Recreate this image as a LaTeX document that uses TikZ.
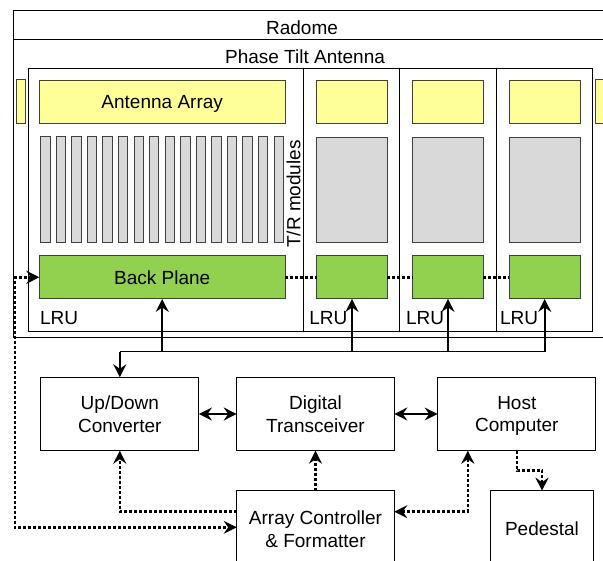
\documentclass[tikz,border=0pt]{standalone}
\usepackage{fontspec}
\setmainfont{Liberation Sans}
\usetikzlibrary{arrows.meta}

\definecolor{ant_gelb}{RGB}{255,255,153}
\definecolor{tr_grau}{RGB}{217,217,217}
\definecolor{bp_gruen}{RGB}{146,208,80}

\begin{document}
\begin{tikzpicture}[
      x=1pt, y=-1pt,
      >={Stealth[length=13pt,width=13pt,inset=4.5pt]},
      every node/.style={
        font=\fontsize{19}{22.7}\selectfont,
        inner sep=0pt,
        outer sep=0pt
      },
      frame/.style={draw=black, line width=1pt},
      antbox/.style={draw=black!75, fill=ant_gelb, line width=1pt, text depth=0pt},
      trbox/.style={draw=black!75, fill=tr_grau, line width=1pt},
      bpbox/.style={draw=black!75, fill=bp_gruen, line width=1pt},
      block/.style={draw=black, line width=1pt, fill=white, align=center, text depth=0pt},
      link/.style={line width=1.6pt},
      ctl/.style={line width=2.5pt, dash pattern=on 3pt off 2pt}
    ]
      \clip (0,0) rectangle (603,561);

      % Radom
      \draw [frame] (612,10.7) -| (13.3,337.3) -- (612,337.3);
      \draw [frame] (13.3,40) -- (612,40);
      \node (radome) at (302,27.5) {Radome};
      \node (pta) at (305,57) {Phase Tilt Antenna};

      % LRUs
      \draw [frame] (28.3,69) rectangle (592.7,331.7);
      \foreach \x in {303.3,399.3,496}
        \draw [frame] (\x,69) -- (\x,331.7);
      \foreach \x in {40,309.3,406,500}
        \node [anchor=west] at (\x,318.3) {LRU};

      % Nachbar-Antennen (Rand)
      \draw [antbox] (16,80) rectangle (25.7,123.3);
      \draw [antbox] (595.3,80) rectangle (612,123.3);

      % erste LRU
      \node [antbox, minimum width=245.7pt, minimum height=43.3pt] (aa) at (162.2,101.7) {Antenna Array};
      \foreach \i in {0,...,15}
        \draw [trbox] ({40.7+15.56*\i},136.7) rectangle ++(9.3,106);
      \node [rotate=90] (trlabel) at (293.5,194) {T/R modules};
      \node [bpbox, minimum width=245.7pt, minimum height=43.3pt] (bp) at (162.2,277.3) {Back Plane};

      % weitere LRUs
      \foreach \n/\x in {2/352,3/448,4/544.7} {
        \node [antbox, minimum width=70.6pt, minimum height=43.3pt] (a\n) at (\x,101.7) {};
        \node [trbox, minimum width=70.6pt, minimum height=105pt] (t\n) at (\x,189.8) {};
        \node [bpbox, minimum width=70.6pt, minimum height=43.3pt] (g\n) at (\x,277.3) {};
      }

      % Bloecke
      \node [block, minimum width=158.3pt, minimum height=73.4pt] (conv) at (119.8,414) {Up/Down\\Converter};
      \node [block, minimum width=157.6pt, minimum height=73.4pt] (trx) at (315.5,414) {Digital\\Transceiver};
      \node [block, minimum width=158.3pt, minimum height=73.4pt] (host) at (516.8,414) {Host\\Computer};
      \node [block, minimum width=157.6pt, minimum height=76.6pt] (ctrl) at (315.5,529) {Array Controller\\\& Formatter};
      \node [block, minimum width=102.6pt, minimum height=76.6pt] (ped) at (542,529) {Pedestal};

      % Bus
      \coordinate (bus) at (0,351.7);
      \draw [link] (conv.north |- bus) -- (g4.south |- bus);
      \draw [link,->] (conv.north |- bus) -- (conv.north);
      \foreach \n in {bp,g2,g3,g4}
        \draw [link,->] (\n.south |- bus) -- (\n.south);

      \draw [link,<->] (conv) -- (trx);
      \draw [link,<->] (trx) -- (host);

      % Steuerleitungen
      \draw [ctl] (bp.east) -- (g2.west);
      \draw [ctl] (g2.east) -- (g3.west);
      \draw [ctl] (g3.east) -- (g4.west);
      \draw [ctl,<->] (bp.west) -- ++(-24.3,0) |- ([yshift=1.7pt]ctrl.west);
      \draw [ctl,->] ([yshift=17.3pt]ctrl.west) -| (conv.south);
      \draw [ctl,->] (ctrl.north) -- (trx.south);
      \draw [ctl,<->] ([yshift=17.3pt]ctrl.east) -| ([xshift=-49pt]host.south);
      \draw [ctl,->] (host.south) -- ++(0,20) -| (ped.north);
    \end{tikzpicture}
\end{document}
